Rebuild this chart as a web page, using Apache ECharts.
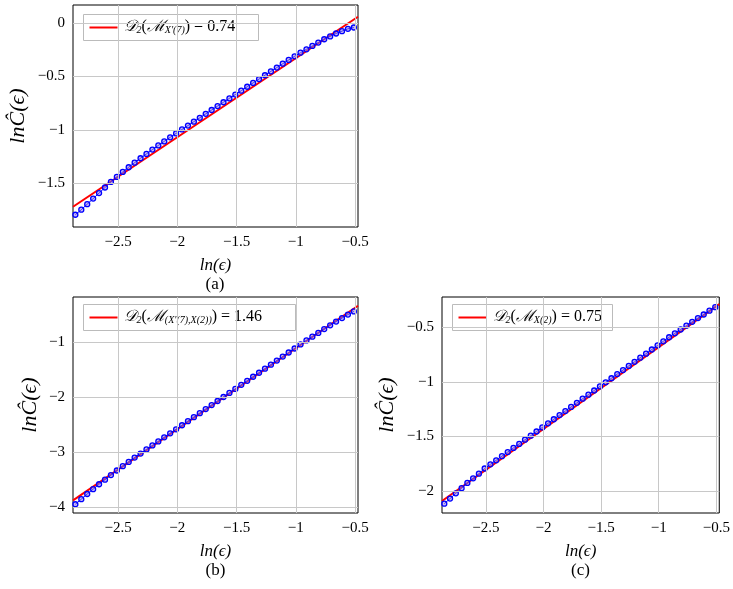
<!DOCTYPE html>
<html><head><meta charset="utf-8">
<script src="https://cdn.jsdelivr.net/npm/echarts@6/dist/echarts.min.js"></script>
<style>html,body{margin:0;padding:0;background:#fff}#c{width:733px;height:589px}</style>
</head><body><div id="c"></div>
<script>
const xVals=[-2.86,-2.81,-2.76,-2.71,-2.66,-2.61,-2.56,-2.51,-2.46,-2.41,-2.36,-2.31,-2.26,-2.21,-2.16,-2.11,-2.06,-2.01,-1.96,-1.91,-1.86,-1.81,-1.76,-1.71,-1.66,-1.61,-1.56,-1.51,-1.46,-1.41,-1.36,-1.31,-1.26,-1.21,-1.16,-1.11,-1.06,-1.01,-0.96,-0.91,-0.86,-0.81,-0.76,-0.71,-0.66,-0.61,-0.56,-0.51];
const yA=[-1.795,-1.748,-1.696,-1.644,-1.592,-1.540,-1.488,-1.441,-1.394,-1.350,-1.307,-1.266,-1.225,-1.185,-1.146,-1.108,-1.070,-1.033,-0.996,-0.960,-0.923,-0.887,-0.850,-0.814,-0.777,-0.741,-0.705,-0.669,-0.633,-0.596,-0.560,-0.524,-0.488,-0.452,-0.416,-0.380,-0.345,-0.311,-0.277,-0.245,-0.213,-0.182,-0.151,-0.124,-0.097,-0.075,-0.053,-0.041];
const yB=[-3.951,-3.858,-3.764,-3.676,-3.587,-3.504,-3.420,-3.337,-3.258,-3.180,-3.101,-3.028,-2.954,-2.881,-2.807,-2.734,-2.660,-2.587,-2.513,-2.440,-2.366,-2.293,-2.219,-2.146,-2.072,-1.999,-1.925,-1.852,-1.778,-1.705,-1.631,-1.558,-1.484,-1.411,-1.337,-1.264,-1.190,-1.117,-1.043,-0.970,-0.901,-0.833,-0.764,-0.696,-0.627,-0.564,-0.500,-0.442];
const yC=[-2.115,-2.068,-2.020,-1.973,-1.925,-1.883,-1.840,-1.793,-1.755,-1.718,-1.680,-1.643,-1.605,-1.568,-1.530,-1.493,-1.455,-1.418,-1.380,-1.343,-1.305,-1.268,-1.230,-1.193,-1.155,-1.118,-1.080,-1.043,-1.005,-0.968,-0.930,-0.893,-0.855,-0.818,-0.780,-0.743,-0.705,-0.668,-0.630,-0.593,-0.557,-0.522,-0.487,-0.452,-0.418,-0.385,-0.350,-0.318];
const fitA=[[-2.88,-1.72],[-0.475,0.06]];
const fitB=[[-2.88,-3.88],[-0.475,-0.34]];
const fitC=[[-2.88,-2.09],[-0.475,-0.29]];
const xTicks=[-2.5,-2,-1.5,-1,-0.5];
const yTicksA=[-1.5,-1,-0.5,0];
const yTicksB=[-4,-3,-2,-1];
const yTicksC=[-2,-1.5,-1,-0.5];
const captions=['(a)','(b)','(c)'];
const dims=['0.74','1.46','0.75'];

const F='"Liberation Serif","DejaVu Serif",serif';
const grids=[{left:73,top:5,width:285,height:222},{left:73,top:297,width:285,height:216},{left:442,top:297,width:278,height:216}];
const yr=[{min:-1.91,max:0.17,t:yTicksA},{min:-4.11,max:-0.18,t:yTicksB},{min:-2.2,max:-0.225,t:yTicksC}];
const neg=v=>String(v).replace('-','−');
const option={animation:false,grid:[],xAxis:[],yAxis:[],series:[],graphic:[]};
const ys=[yA,yB,yC],fits=[fitA,fitB,fitC];
const gridLine=(vals,isX,i)=>({type:'line',xAxisIndex:i,yAxisIndex:i,silent:true,data:[],
  markLine:{silent:true,symbol:'none',label:{show:false},lineStyle:{color:'#c8c8c8',type:'solid',width:1},
    data:vals.map(v=>isX?{xAxis:v}:{yAxis:v})},z:1});
grids.forEach((g,i)=>{
  option.grid.push(Object.assign({show:true,borderColor:'#000',borderWidth:1,backgroundColor:'#fff'},g));
  option.xAxis.push({type:'value',gridIndex:i,min:-2.88,max:-0.475,
    axisLabel:{fontFamily:F,fontSize:15,color:'#000',customValues:xTicks,formatter:neg},
    axisLine:{show:false},axisTick:{show:false},splitLine:{show:false},
    name:'ln(ϵ)',nameLocation:'middle',nameGap:30,nameTextStyle:{fontFamily:F,fontStyle:'italic',fontSize:17,color:'#000'}});
  const r=yr[i];
  option.yAxis.push({type:'value',gridIndex:i,min:r.min,max:r.max,
    axisLabel:{fontFamily:F,fontSize:15,color:'#000',customValues:r.t,formatter:neg},
    axisLine:{show:false},axisTick:{show:false},splitLine:{show:false},
    name:'lnĈ(ϵ)',nameLocation:'middle',nameGap:i==1?32:44,nameRotate:90,nameTextStyle:{fontFamily:F,fontStyle:'italic',fontSize:22,color:'#000'}});
  option.series.push(gridLine(xTicks,true,i));
  option.series.push(gridLine(r.t,false,i));
  option.series.push({type:'line',xAxisIndex:i,yAxisIndex:i,data:fits[i],symbol:'none',
    lineStyle:{color:'#ff0000',width:2},z:2});
  option.series.push({type:'line',xAxisIndex:i,yAxisIndex:i,data:xVals.map((x,k)=>[x,ys[i][k]]),
    lineStyle:{color:'#0000ff',width:1},symbol:'circle',symbolSize:5,
    itemStyle:{color:'rgba(150,120,230,0.5)',borderColor:'#0000ff',borderWidth:1.3},z:3});
  option.graphic.push({type:'text',left:g.left+g.width/2-10,top:g.top+g.height+49,
    style:{text:captions[i],font:'17px '+F,fill:'#000'}});
});
const legendSub=['X′(7)','(X′(7),X(2))','X(2)'];
const legW=[175,212,160];
grids.forEach((g,i)=>{
  const x=g.left+10,y=g.top+(i==0?9:7);
  option.graphic.push({type:'group',left:x,top:y,z:100,children:[
    {type:'rect',shape:{x:0,y:0,width:legW[i],height:26},style:{fill:'#fff',stroke:'#bbb',lineWidth:1}},
    {type:'line',shape:{x1:6,y1:13,x2:34,y2:13},style:{stroke:'#ff0000',lineWidth:2}},
    {type:'text',x:40,y:3,style:{rich:{
        n:{fontFamily:F,fontSize:16,fontStyle:'italic',fill:'#000'},
        u:{fontFamily:F,fontSize:16,fill:'#000'},
        s:{fontFamily:F,fontSize:10,fontStyle:'italic',fill:'#000',verticalAlign:'bottom',padding:[8,0,0,0]}},
      text:'{n|𝒟}{s|2}{u|(}{n|ℳ}{s|'+legendSub[i]+'}{u|) = '+dims[i]+'}'}}
  ]});
});
echarts.init(document.getElementById('c')).setOption(option);
</script></body></html>
